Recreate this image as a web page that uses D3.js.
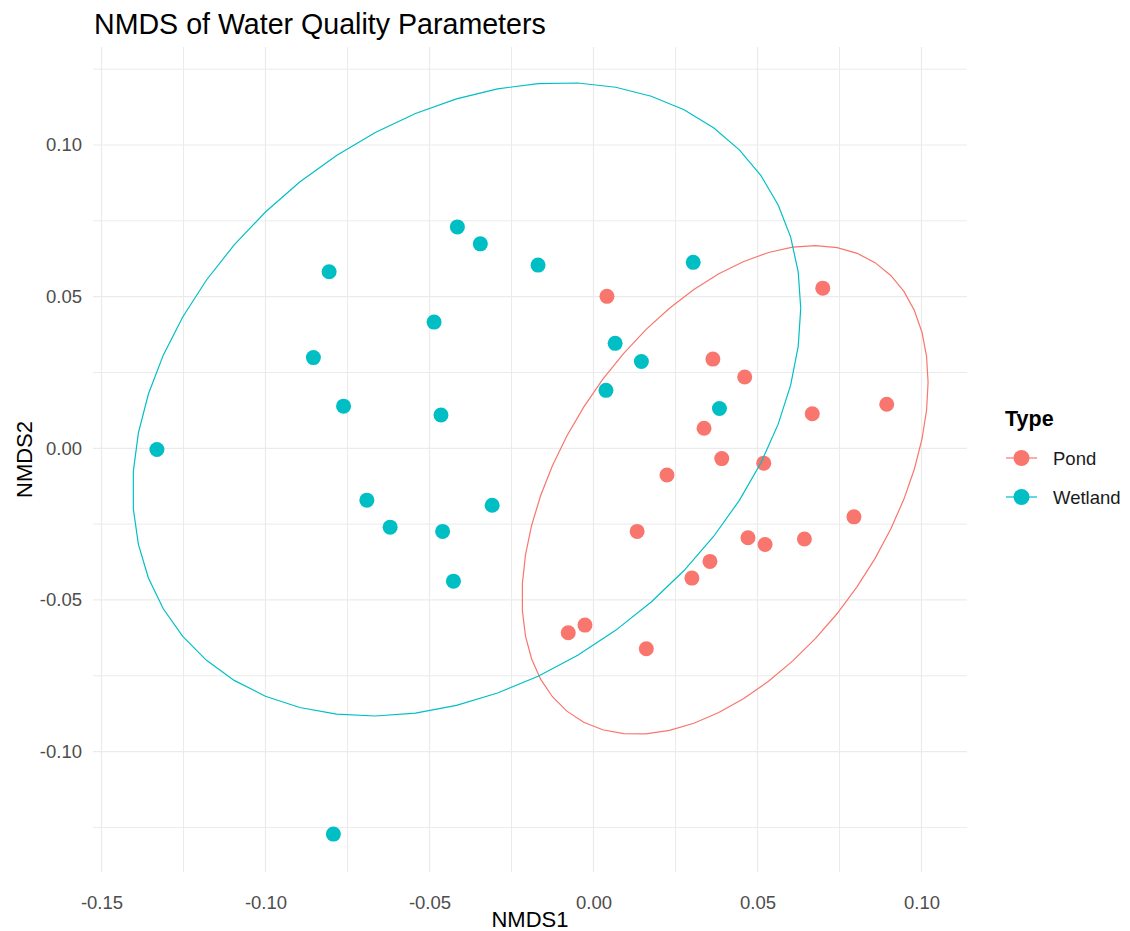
<!DOCTYPE html>
<html>
<head>
<meta charset="utf-8">
<script src="https://cdn.jsdelivr.net/npm/d3@7"></script>
<style>
  html, body { margin: 0; padding: 0; background: #ffffff; }
  svg { display: block; font-family: "Liberation Sans", Arial, sans-serif; }
</style>
</head>
<body>
<svg id="chart" width="1130" height="931"></svg>
<script>
// NMDS site scores, one array per habitat type
const pondNMDS1 = [0.0041, 0.0699, 0.0364, 0.0461, 0.0667, 0.0894, 0.0337, 0.0391, 0.0519, 0.0224,
                   0.0133, 0.0471, 0.0523, 0.0643, 0.0794, 0.0355, 0.0300, -0.0026, -0.0077, 0.0161];
const pondNMDS2 = [0.0501, 0.0528, 0.0294, 0.0235, 0.0114, 0.0145, 0.0066, -0.0034, -0.0049, -0.0088,
                   -0.0274, -0.0295, -0.0317, -0.0299, -0.0226, -0.0373, -0.0428, -0.0583, -0.0608, -0.0661];
const wetlandNMDS1 = [-0.1331, -0.0806, -0.0854, -0.0762, -0.0486, -0.0465, -0.0691, -0.0620, -0.0460, -0.0309,
                      -0.0427, -0.0415, -0.0345, -0.0169, 0.0304, 0.0066, 0.0146, 0.0038, 0.0384, -0.0793];
const wetlandNMDS2 = [-0.0004, 0.0582, 0.0299, 0.0139, 0.0416, 0.0110, -0.0171, -0.0260, -0.0274, -0.0188,
                      -0.0438, 0.0730, 0.0674, 0.0604, 0.0613, 0.0346, 0.0286, 0.0191, 0.0131, -0.1272];

const groups = ["Pond", "Wetland"];
const groupColors = ["#F8766D", "#00BFC4"];

const xTicks = [-0.15, -0.10, -0.05, 0.00, 0.05, 0.10];
const yTicks = [-0.10, -0.05, 0.00, 0.05, 0.10];
const xMinor = [-0.125, -0.075, -0.025, 0.025, 0.075];
const yMinor = [-0.125, -0.075, -0.025, 0.025, 0.075, 0.125];

const series = [
  { name: groups[0], color: groupColors[0], xs: pondNMDS1, ys: pondNMDS2 },
  { name: groups[1], color: groupColors[1], xs: wetlandNMDS1, ys: wetlandNMDS2 }
];

// ---- layout ----
const panel = { left: 93, right: 967, top: 47, bottom: 872 };
const x = d3.scaleLinear().domain([-0.15259, 0.11387]).range([panel.left, panel.right]);
const y = d3.scaleLinear().domain([-0.13970, 0.13231]).range([panel.bottom, panel.top]);

const svg = d3.select("#chart");
svg.append("rect").attr("width", 1130).attr("height", 931).attr("fill", "#ffffff");

// ---- grid ----
const grid = svg.append("g");
grid.selectAll(".vminor").data(xMinor).join("line")
  .attr("x1", d => x(d)).attr("x2", d => x(d))
  .attr("y1", panel.top).attr("y2", panel.bottom)
  .attr("stroke", "#EBEBEB").attr("stroke-width", 1);
grid.selectAll(".hminor").data(yMinor).join("line")
  .attr("y1", d => y(d)).attr("y2", d => y(d))
  .attr("x1", panel.left).attr("x2", panel.right)
  .attr("stroke", "#EBEBEB").attr("stroke-width", 1);
grid.selectAll(".vmajor").data(xTicks).join("line")
  .attr("x1", d => x(d)).attr("x2", d => x(d))
  .attr("y1", panel.top).attr("y2", panel.bottom)
  .attr("stroke", "#EBEBEB").attr("stroke-width", 1.2);
grid.selectAll(".hmajor").data(yTicks).join("line")
  .attr("y1", d => y(d)).attr("y2", d => y(d))
  .attr("x1", panel.left).attr("x2", panel.right)
  .attr("stroke", "#EBEBEB").attr("stroke-width", 1.2);

// ---- axes (labels only, no lines or ticks) ----
const fmt = d3.format(".2f");
const xAxis = svg.append("g")
  .attr("transform", `translate(0,${panel.bottom})`)
  .call(d3.axisBottom(x).tickValues(xTicks).tickFormat(d => fmt(d).replace("−", "-")).tickSize(0).tickPadding(24));
const yAxis = svg.append("g")
  .attr("transform", `translate(${panel.left},0)`)
  .call(d3.axisLeft(y).tickValues(yTicks).tickFormat(d => fmt(d).replace("−", "-")).tickSize(0).tickPadding(11));
[xAxis, yAxis].forEach(g => {
  g.select(".domain").remove();
  g.selectAll("text")
    .attr("fill", "#4D4D4D")
    .style("font-size", "18.5px")
    .style("font-family", "'Liberation Sans', Arial, sans-serif");
});

// ---- robust t-based covariance (MASS::cov.trob equivalent, 2D) ----
function covTrob(pts, nu = 5, maxit = 25, tol = 0.01) {
  const n = pts.length, p = 2;
  let loc = [d3.mean(pts, d => d[0]), d3.mean(pts, d => d[1])];
  let w = pts.map(() => 1);
  let X = [];
  for (let iter = 0; iter < maxit; iter++) {
    const w0 = w.slice();
    X = pts.map(d => [d[0] - loc[0], d[1] - loc[1]]);
    const sw = d3.sum(w);
    let s11 = 0, s12 = 0, s22 = 0;
    X.forEach((v, i) => {
      s11 += w[i] / sw * v[0] * v[0];
      s12 += w[i] / sw * v[0] * v[1];
      s22 += w[i] / sw * v[1] * v[1];
    });
    const det = s11 * s22 - s12 * s12;
    const i11 = s22 / det, i12 = -s12 / det, i22 = s11 / det;
    const Q = X.map(v => v[0] * v[0] * i11 + 2 * v[0] * v[1] * i12 + v[1] * v[1] * i22);
    w = Q.map(q => (nu + p) / (nu + q));
    const sw2 = d3.sum(w);
    loc = [d3.sum(pts, (d, i) => w[i] * d[0]) / sw2, d3.sum(pts, (d, i) => w[i] * d[1]) / sw2];
    if (w.every((wi, i) => Math.abs(wi - w0[i]) < tol)) break;
  }
  let c11 = 0, c12 = 0, c22 = 0;
  X.forEach((v, i) => {
    c11 += w[i] * v[0] * v[0];
    c12 += w[i] * v[0] * v[1];
    c22 += w[i] * v[1] * v[1];
  });
  return { center: loc, cov: [[c11 / n, c12 / n], [c12 / n, c22 / n]] };
}

// 95% confidence ellipse, t-distribution based
function ellipsePoints(pts, level = 0.95, segments = 51) {
  const { center, cov } = covTrob(pts);
  const dfd = pts.length - 1;
  // F quantile with 2 numerator df has a closed form
  const fq = (dfd / 2) * (Math.pow(1 - level, -2 / dfd) - 1);
  const radius = Math.sqrt(2 * fq);
  const a = Math.sqrt(cov[0][0]);
  const b = cov[0][1] / a;
  const c = Math.sqrt(cov[1][1] - b * b);
  return d3.range(segments + 1).map(k => {
    const t = k * 2 * Math.PI / segments;
    return [center[0] + radius * Math.cos(t) * a,
            center[1] + radius * (Math.cos(t) * b + Math.sin(t) * c)];
  });
}

// ---- points ----
const pointsG = svg.append("g");
series.forEach(s => {
  const pts = s.xs.map((v, i) => [v, s.ys[i]]);
  pointsG.selectAll(null).data(pts).join("circle")
    .attr("cx", d => x(d[0])).attr("cy", d => y(d[1]))
    .attr("r", 7.5).attr("fill", s.color);
});

// ---- ellipses ----
const line = d3.line().x(d => x(d[0])).y(d => y(d[1]));
series.forEach(s => {
  const pts = s.xs.map((v, i) => [v, s.ys[i]]);
  svg.append("path")
    .attr("d", line(ellipsePoints(pts)))
    .attr("fill", "none").attr("stroke", s.color).attr("stroke-width", 1.2);
});

// ---- titles ----
svg.append("text").attr("x", 94).attr("y", 34)
  .attr("fill", "#000000").style("font-size", "28.6px")
  .text("NMDS of Water Quality Parameters");
svg.append("text").attr("x", (panel.left + panel.right) / 2).attr("y", 927)
  .attr("text-anchor", "middle").attr("fill", "#000000").style("font-size", "22px")
  .text("NMDS1");
svg.append("text")
  .attr("transform", `translate(32,${(panel.top + panel.bottom) / 2}) rotate(-90)`)
  .attr("text-anchor", "middle").attr("fill", "#000000").style("font-size", "22px")
  .text("NMDS2");

// ---- legend ----
const legend = svg.append("g").attr("transform", "translate(1005,0)");
legend.append("text").attr("x", 0).attr("y", 426)
  .attr("fill", "#000000").style("font-size", "21.5px").style("font-weight", "bold")
  .text("Type");
const keyY = [458, 497];
series.forEach((s, i) => {
  const g = legend.append("g").attr("transform", `translate(0,${keyY[i]})`);
  g.append("line").attr("x1", 1).attr("x2", 32).attr("y1", 0).attr("y2", 0)
    .attr("stroke", s.color).attr("stroke-width", 1.2);
  g.append("circle").attr("cx", 16.5).attr("cy", 0).attr("r", 8).attr("fill", s.color);
  g.append("text").attr("x", 48).attr("y", 6.5)
    .attr("fill", "#1A1A1A").style("font-size", "18.5px")
    .text(s.name);
});
</script>
</body>
</html>
